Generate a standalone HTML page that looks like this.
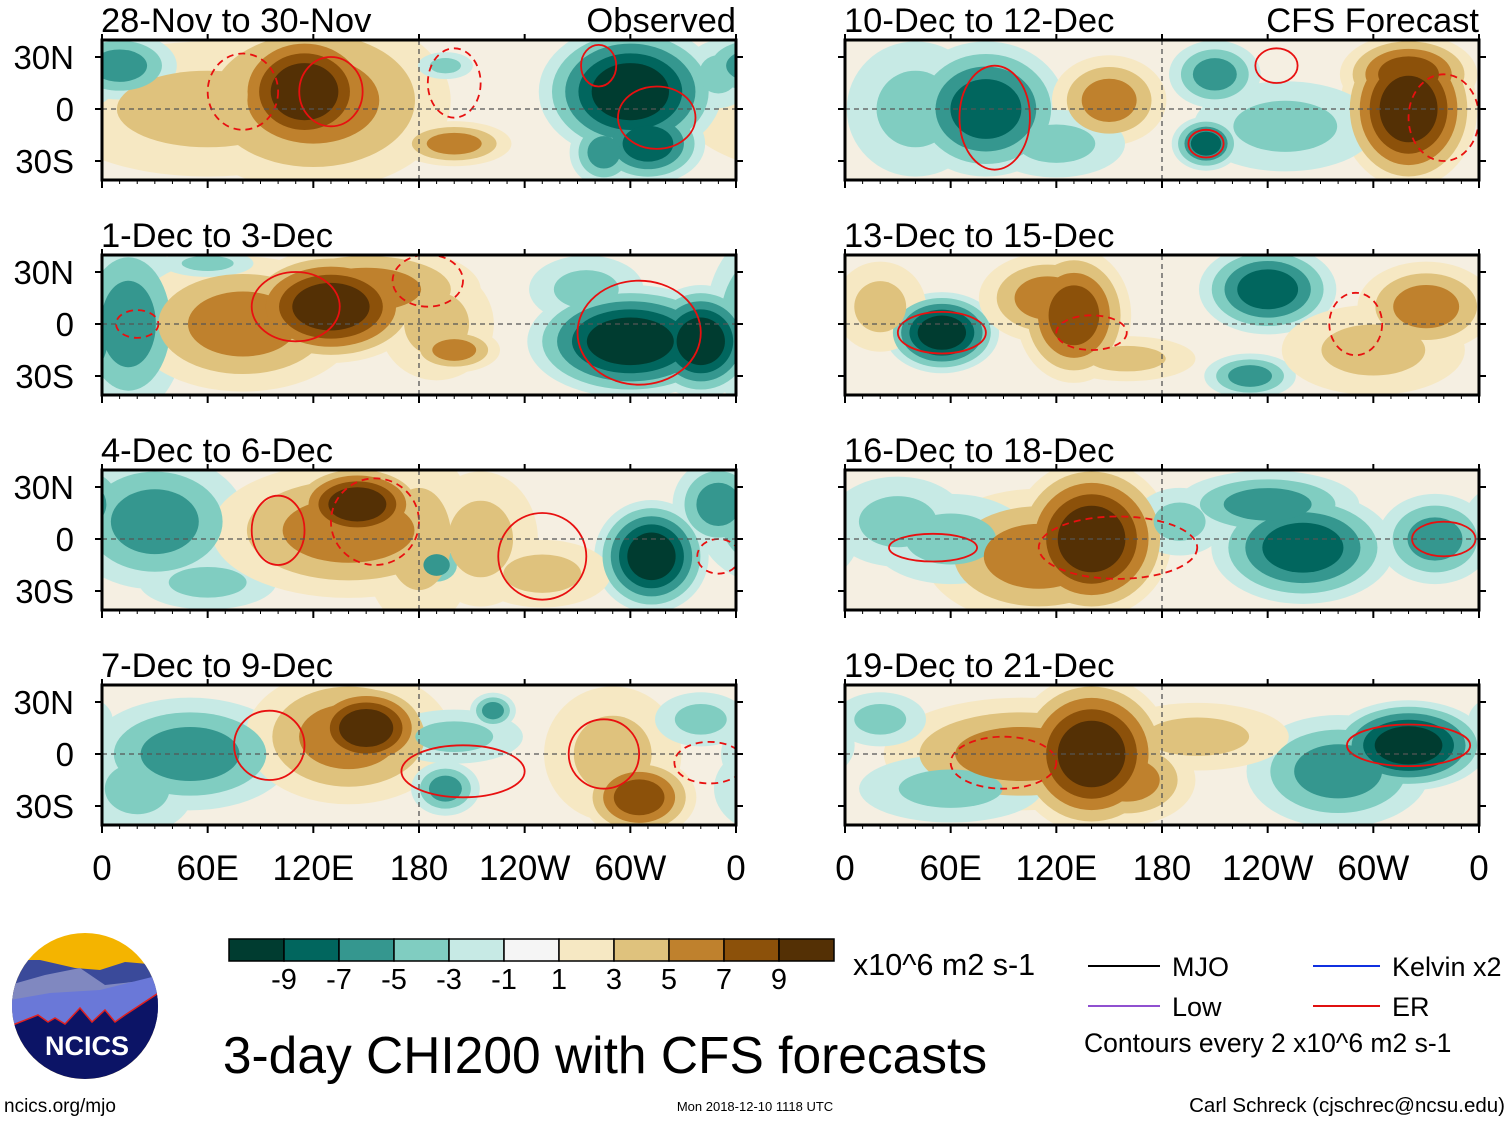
<!DOCTYPE html>
<html><head><meta charset="utf-8"><style>
body{margin:0;background:#fff;width:1510px;height:1121px;overflow:hidden;font-family:"Liberation Sans",Arial,sans-serif}
svg{display:block}
text{font-family:"Liberation Sans",Arial,sans-serif}
</style></head><body>
<svg id="chart" width="1510" height="1121" viewBox="0 0 1510 1121" xmlns="http://www.w3.org/2000/svg">
<defs id="defs"></defs>
<g id="panels"></g>
<g id="cbar"></g>
<g>
 <clipPath id="logoclip"><circle cx="85" cy="1006" r="73"/></clipPath>
 <g clip-path="url(#logoclip)">
  <rect x="10" y="930" width="150" height="160" fill="#f4b400"/>
  <path d="M10 960 L40 960 L75 968 L100 970 L125 962 L160 965 L160 1010 L10 1010Z" fill="#3a4a9a"/>
  <path d="M10 985 L45 975 L80 968 L105 985 L150 980 L160 985 L160 1020 L10 1020Z" fill="#8088c0"/>
  <path d="M10 1000 L50 993 L100 990 L160 975 L160 1030 L10 1030Z" fill="#6a78d8"/>
  <path d="M10 1026 L38 1015 L48 1022 L55 1018 L65 1024 L80 1008 L92 1022 L105 1010 L115 1022 L125 1015 L160 992 L160 1090 L10 1090Z" fill="#0c1466" stroke="#e02020" stroke-width="1.5"/>
 </g>
 <text x="87" y="1055" font-size="27" font-weight="bold" fill="#fff" text-anchor="middle">NCICS</text>
</g>
<text x="4" y="1112" font-size="19">ncics.org/mjo</text>
<text x="755" y="1111" font-size="13" text-anchor="middle">Mon 2018-12-10 1118 UTC</text>
<text x="1505" y="1112" font-size="20.5" text-anchor="end">Carl Schreck (cjschrec@ncsu.edu)</text>
<text x="605" y="1073" font-size="51.5" text-anchor="middle">3-day CHI200 with CFS forecasts</text>
<text x="853" y="975" font-size="30.5">x10^6 m2 s-1</text>
<g>
 <line x1="1088" y1="966" x2="1160" y2="966" stroke="#000" stroke-width="2"/>
 <text x="1172" y="976" font-size="27">MJO</text>
 <line x1="1313" y1="966" x2="1380" y2="966" stroke="#1030e0" stroke-width="2"/>
 <text x="1392" y="976" font-size="27">Kelvin x2</text>
 <line x1="1088" y1="1006" x2="1160" y2="1006" stroke="#9050d0" stroke-width="2"/>
 <text x="1172" y="1016" font-size="27">Low</text>
 <line x1="1313" y1="1006" x2="1380" y2="1006" stroke="#e01010" stroke-width="2"/>
 <text x="1392" y="1016" font-size="27">ER</text>
 <text x="1084" y="1052" font-size="26.5">Contours every 2 x10^6 m2 s-1</text>
</g>
</svg>
<script>
// colour scale
const levels = [-9,-7,-5,-3,-1,1,3,5,7,9];
const colors = ["#003c30","#01665e","#35978f","#80cdc1","#c7eae5","#f5f5f5","#f6e8c3","#dfc27d","#bf812d","#8c510a","#543005"];
const xTickLabels = ["0","60E","120E","180","120W","60W","0"];
const xTickLons = [0,60,120,180,240,300,360];
const yTickLabels = ["30N","0","30S"];
const yTickLats = [30,0,-30];
const panelTitles = ["28-Nov to 30-Nov","1-Dec to 3-Dec","4-Dec to 6-Dec","7-Dec to 9-Dec","10-Dec to 12-Dec","13-Dec to 15-Dec","16-Dec to 18-Dec","19-Dec to 21-Dec"];
// anomaly blobs: [lon, lat, value, lonRadius, latRadius]
const blobs0 = [[60,0,3,70,30],[10,25,-5,25,15],[115,10,9,35,30],[120,5,5,60,40],[200,-20,5,25,10],[195,25,-3,12,6],[300,10,-9,40,30],[310,-20,-7,25,18],[285,-25,-5,15,15],[350,20,-3,15,15]];
const blobs1 = [[15,0,-5,25,40],[80,0,5,50,30],[130,10,9,40,25],[150,20,5,50,20],[190,0,3,25,25],[200,-15,5,20,10],[300,-10,-9,45,25],[340,-10,-9,25,25],[275,20,-3,25,15],[60,35,-3,20,6]];
const blobs2 = [[30,10,-5,40,30],[60,-25,-3,30,12],[145,20,9,30,18],[140,5,5,60,30],[190,-15,-5,12,10],[180,0,3,25,40],[215,0,3,25,30],[312,-10,-9,25,25],[350,20,-5,20,20],[250,-20,3,30,15]];
const blobs3 = [[50,0,-5,45,25],[20,-20,-3,25,20],[150,15,9,28,20],[140,10,5,45,30],[222,25,-5,10,8],[195,-20,-5,15,12],[305,-25,7,25,18],[290,0,3,30,30],[200,10,-3,30,12],[340,20,-3,20,12]];
const blobs4 = [[80,0,-7,35,30],[40,0,-3,30,30],[150,5,5,25,20],[210,20,-5,20,15],[205,-20,-7,15,12],[320,0,9,30,35],[320,20,7,30,18],[250,-10,-3,40,20],[120,-20,-3,30,15]];
const blobs5 = [[55,-5,-9,25,18],[130,5,7,25,30],[115,15,5,30,20],[240,20,-7,30,20],[230,-30,-5,20,10],[330,10,5,30,20],[300,-15,3,40,20],[160,-20,3,30,10],[20,10,3,20,20]];
const blobs6 = [[140,0,9,35,35],[110,-10,5,50,30],[60,0,-3,35,20],[260,-5,-7,40,25],[240,20,-5,40,15],[335,0,-5,25,20],[190,10,-3,20,15],[30,10,-3,30,20]];
const blobs7 = [[140,0,9,35,35],[100,0,5,60,25],[160,-15,5,30,20],[320,5,-9,35,20],[280,-10,-5,40,25],[60,-20,-3,40,15],[200,10,3,40,15],[20,20,-3,20,12]];
const allBlobs = [blobs0,blobs1,blobs2,blobs3,blobs4,blobs5,blobs6,blobs7];
// red ER contours: [lon, lat, lonRadius, latRadius, dashed]
const er0 = [[80,10,20,22,1],[130,10,18,20,0],[200,15,15,20,1],[282,25,10,12,0],[315,-5,22,18,0]];
const er1 = [[110,10,25,20,0],[185,25,20,15,1],[305,-5,35,30,0],[20,0,12,8,1]];
const er2 = [[100,5,15,20,0],[250,-10,25,25,0],[155,10,25,25,1],[350,-10,12,10,1]];
const er3 = [[95,5,20,20,0],[205,-10,35,15,0],[285,0,20,20,0],[345,-5,20,12,1]];
const er4 = [[85,-5,20,30,0],[245,25,12,10,0],[205,-20,10,8,0],[340,-5,20,25,1]];
const er5 = [[55,-5,25,12,0],[140,-5,20,10,1],[290,0,15,18,1]];
const er6 = [[50,-5,25,8,0],[155,-5,45,18,1],[340,0,18,10,0]];
const er7 = [[90,-5,30,15,1],[320,5,35,12,0]];
const allEr = [er0,er1,er2,er3,er4,er5,er6,er7];

const NS="http://www.w3.org/2000/svg";
const PW=634, PH=140, EQ=69, DEG=52/30, GROW=1.3;
const panelX=[102,845], panelY=[40,255,470,685];
function mk(tag,attrs,parent){const e=document.createElementNS(NS,tag);for(const k in attrs)e.setAttribute(k,attrs[k]);parent.appendChild(e);return e;}
function xS(lon){return lon/360*PW;}
function yS(lat){return EQ-lat*DEG;}
function colorFor(level,sign){const k=(level+1)/2;return colors[5+sign*k];}
const gP=document.getElementById('panels'), defs=document.getElementById('defs');
for(let p=0;p<8;p++){
  const col=p<4?0:1,row=p%4,x0=panelX[col],y0=panelY[row];
  const cp=mk('clipPath',{id:'cp'+p},defs);mk('rect',{x:0,y:0,width:PW,height:PH},cp);
  const g=mk('g',{transform:`translate(${x0},${y0})`},gP);
  
  
  const inner=mk('g',{'clip-path':`url(#cp${p})`},g);
  mk('rect',{x:0,y:0,width:PW,height:PH,fill:'#f5efe2'},inner);
  for(let lv=1;lv<=9;lv+=2){
    allBlobs[p].forEach(b=>{
      const [lon,lat,v,rl,ra]=b;const a=Math.abs(v),s=Math.sign(v);
      if(lv>a)return;
      const sc=GROW*(1-0.65*(lv-1)/a);
      for(const dx of [-360,0,360]){
        const cx=xS(lon+dx);if(cx<-xS(rl)*GROW||cx>PW+xS(rl)*GROW)continue;
        const e=mk('ellipse',{cx:cx,cy:yS(lat),rx:xS(rl)*sc,ry:ra*DEG*sc,fill:colorFor(lv,s)},inner);
        
        
      }
    });
  }
  allEr[p].forEach(c=>{
    const e=mk('ellipse',{cx:xS(c[0]),cy:yS(c[1]),rx:xS(c[2]),ry:c[3]*DEG,fill:'none',stroke:'#e81010','stroke-width':1.8},inner);
    if(c[4])e.setAttribute('stroke-dasharray','7 5');
    
    
  });
  mk('line',{x1:0,y1:yS(0),x2:PW,y2:yS(0),stroke:'#555','stroke-dasharray':'5 4','stroke-width':1.3},inner);
  mk('line',{x1:xS(180),y1:0,x2:xS(180),y2:PH,stroke:'#555','stroke-dasharray':'5 4','stroke-width':1.3},inner);
  mk('rect',{x:0,y:0,width:PW,height:PH,fill:'none',stroke:'#000','stroke-width':3},g);
  xTickLons.forEach(l=>{mk('line',{x1:xS(l),y1:PH,x2:xS(l),y2:PH+8,stroke:'#000','stroke-width':2},g);mk('line',{x1:xS(l),y1:0,x2:xS(l),y2:-6,stroke:'#000','stroke-width':2},g);});
  for(let l=10;l<360;l+=10){if(l%60)mk('line',{x1:xS(l),y1:PH,x2:xS(l),y2:PH+4,stroke:'#000','stroke-width':1},g);}
  yTickLats.forEach(l=>{mk('line',{x1:-7,y1:yS(l),x2:0,y2:yS(l),stroke:'#000','stroke-width':2},g);mk('line',{x1:PW,y1:yS(l),x2:PW+7,y2:yS(l),stroke:'#000','stroke-width':2},g);});
  const t=mk('text',{x:-1,y:-8,'font-size':34.5},g);t.textContent=panelTitles[p];
  
  
  if(row===0){const r=mk('text',{x:PW,y:-8,'font-size':34.5,'text-anchor':'end'},g);r.textContent=col?'CFS Forecast':'Observed';
    
    }
  if(col===0){yTickLabels.forEach((s,i)=>{const y=mk('text',{x:-28,y:yS(yTickLats[i])+12,'font-size':33,'text-anchor':'end'},g);y.textContent=s;
    
    });}
  if(row===3){xTickLabels.forEach((s,i)=>{const x=mk('text',{x:xS(xTickLons[i]),y:PH+55,'font-size':35,'text-anchor':'middle'},g);x.textContent=s;
    
    });}
}
// colorbar
const cb=document.getElementById('cbar');const cbx=229,cbw=55;
colors.forEach((c,i)=>{const r=mk('rect',{x:cbx+i*cbw,y:939,width:cbw,height:22,fill:c,stroke:'#000','stroke-width':1.5},cb);
  
  });
levels.forEach((v,i)=>{const t=mk('text',{x:cbx+(i+1)*cbw,y:989,'font-size':29,'text-anchor':'middle'},cb);t.textContent=v;
  
  });
</script>
</body></html>
